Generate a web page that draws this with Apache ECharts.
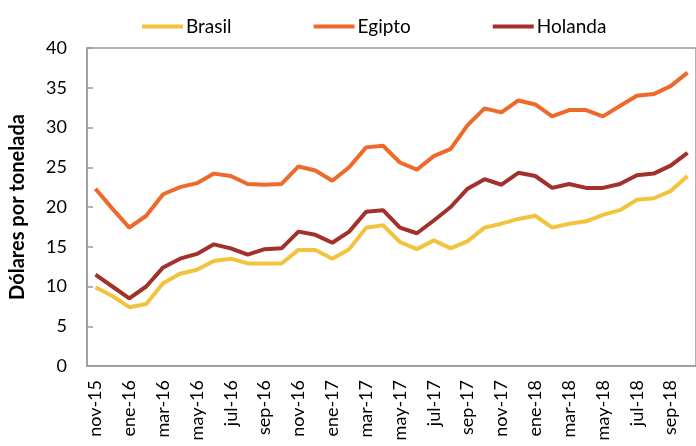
<!DOCTYPE html>
<html lang="es">
<head>
	<meta charset="UTF-8">
	<title>precios</title>
	<style>
		body{ margin: 0; }
		#main{ width: 696px; height: 446px; }
	</style>
	<script src="https://cdn.jsdelivr.net/npm/echarts@6/dist/echarts.min.js"></script>
</head>
<body>
	<div id="main"></div>
	<script>
		// meses nov-15 .. oct-18
		var meses = ['nov-15','dic-15','ene-16','feb-16','mar-16','abr-16','may-16','jun-16','jul-16','ago-16','sep-16','oct-16',
			'nov-16','dic-16','ene-17','feb-17','mar-17','abr-17','may-17','jun-17','jul-17','ago-17','sep-17','oct-17',
			'nov-17','dic-17','ene-18','feb-18','mar-18','abr-18','may-18','jun-18','jul-18','ago-18','sep-18','oct-18'];

		var brasil = [9.9, 8.8, 7.4, 7.8, 10.4, 11.6, 12.1, 13.2, 13.5, 12.9, 12.9, 12.9,
			14.6, 14.6, 13.5, 14.7, 17.4, 17.7, 15.6, 14.7, 15.8, 14.8, 15.7, 17.4,
			17.9, 18.5, 18.9, 17.4, 17.9, 18.2, 19.0, 19.6, 20.9, 21.1, 22.0, 23.9];

		var egipto = [22.3, 19.8, 17.4, 18.9, 21.6, 22.5, 23.0, 24.2, 23.9, 22.9, 22.8, 22.9,
			25.1, 24.6, 23.3, 25.0, 27.5, 27.7, 25.6, 24.7, 26.4, 27.3, 30.3, 32.4,
			31.9, 33.4, 32.9, 31.4, 32.2, 32.2, 31.4, 32.7, 34.0, 34.2, 35.2, 36.9];

		var holanda = [11.5, 10.0, 8.5, 10.0, 12.4, 13.5, 14.1, 15.3, 14.8, 14.0, 14.7, 14.8,
			16.9, 16.5, 15.5, 16.9, 19.4, 19.6, 17.4, 16.7, 18.3, 20.0, 22.3, 23.5,
			22.8, 24.3, 23.9, 22.4, 22.9, 22.4, 22.4, 22.9, 24.0, 24.2, 25.2, 26.8];

		var colores = ['#F2C43D', '#EE6A2B', '#A2302B'];
		var fuente = 'Lato, "Open Sans", sans-serif';

		var myChart = echarts.init(document.getElementById('main'));

		var option = {
			color: colores,
			animation: false,
			textStyle: { fontFamily: fuente },
			legend: {
				data: ['Brasil', 'Egipto', 'Holanda'],
				top: 12,
				left: 137,
				itemGap: 82,
				itemWidth: 41,
				itemHeight: 4,
				icon: 'rect',
				textStyle: { fontSize: 19, color: '#000', fontFamily: fuente, padding: [0, 0, 0, -2] }
			},
			grid: {
				left: 86,
				top: 48,
				right: -2,
				bottom: 80,
				show: true,
				borderColor: '#9a9a9a',
				borderWidth: 1.5
			},
			xAxis: {
				type: 'category',
				data: meses,
				boundaryGap: true,
				axisLine: { lineStyle: { color: '#9a9a9a', width: 1.5 } },
				axisTick: { inside: true, length: 5, interval: 1, lineStyle: { color: '#9a9a9a', width: 1.5 } },
				axisLabel: {
					interval: 1,
					rotate: 90,
					fontSize: 18,
					color: '#000',
					margin: 14,
					fontFamily: fuente
				}
			},
			yAxis: {
				type: 'value',
				min: 0,
				max: 40,
				interval: 5,
				name: 'Dólares por tonelada',
				nameLocation: 'middle',
				nameGap: 59,
				nameTextStyle: { fontSize: 20, fontWeight: 'bold', color: '#000', fontFamily: fuente },
				axisLine: { show: true, lineStyle: { color: '#9a9a9a', width: 1.5 } },
				axisTick: { show: true, inside: true, length: 6, lineStyle: { color: '#9a9a9a', width: 1.5 } },
				splitLine: { show: false },
				axisLabel: { fontSize: 18, color: '#000', margin: 20, fontFamily: fuente }
			},
			series: [{
				name: 'Brasil',
				type: 'line',
				data: brasil,
				showSymbol: false,
				lineStyle: { width: 4 }
			}, {
				name: 'Egipto',
				type: 'line',
				data: egipto,
				showSymbol: false,
				lineStyle: { width: 4 }
			}, {
				name: 'Holanda',
				type: 'line',
				data: holanda,
				showSymbol: false,
				lineStyle: { width: 4 }
			}]
		};

		myChart.setOption(option);
	</script>
</body>
</html>
